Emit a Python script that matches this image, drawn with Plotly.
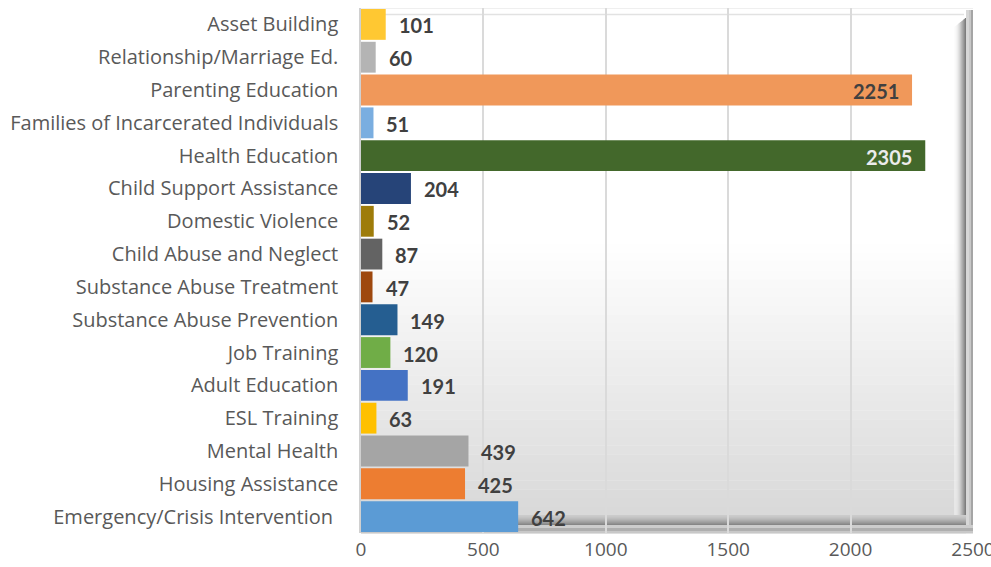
import plotly.graph_objects as go

# Data (bottom to top)
categories = [
    "Emergency/Crisis Intervention ", "Housing Assistance", "Mental Health", "ESL Training",
    "Adult Education", "Job Training", "Substance Abuse Prevention", "Substance Abuse Treatment",
    "Child Abuse and Neglect", "Domestic Violence", "Child Support Assistance", "Health Education",
    "Families of Incarcerated Individuals", "Parenting Education", "Relationship/Marriage Ed.",
    "Asset Building",
]
values = [642, 425, 439, 63, 191, 120, 149, 47, 87, 52, 204, 2305, 51, 2251, 60, 101]
colors = [
    "#5B9BD5", "#ED7D31", "#A5A5A5", "#FFC000", "#4472C4", "#70AD47", "#255E91", "#9E480E",
    "#636363", "#9E7C0A", "#264478", "#43682B", "#7AAEE0", "#F0985A", "#B4B4B4", "#FFC832",
]
x_ticks = [0, 500, 1000, 1500, 2000, 2500]

W, H = 991, 567
L, R, T, B = 361, 973, 8, 533

def fx(px):
    return (px - L) / (R - L)

def fy(py):
    return (B - py) / (B - T)

fig = go.Figure(go.Bar(
    y=categories, x=values, orientation="h",
    marker=dict(color=colors, line=dict(width=0)),
    hoverinfo="x+y", cliponaxis=False,
))

shapes = []
# background wall gradient (white top -> grey bottom)
N = 60
for i in range(N):
    t0 = i / N
    t1 = (i + 1) / N
    tm = (t0 + t1) / 2
    v = 255 if tm < 0.45 else 255 - 75 * (tm - 0.45)
    v = int(round(v))
    shapes.append(dict(type="rect", xref="x domain", yref="y domain",
                       x0=0, x1=fx(966), y0=1 - t1 - 0.0005, y1=1 - t0,
                       fillcolor=f"rgb({v},{v},{v})", line=dict(width=0), layer="below"))
# right bevel: soft shade getting darker toward the edge
for k in range(12):
    a = 954 + k
    t = (k + 1) / 12
    v = int(round(250 - 125 * t ** 1.6))
    shapes.append(dict(type="rect", xref="x domain", yref="y domain",
                       x0=fx(a), x1=fx(a + 1.05), y0=fy(521), y1=fy(T + 10 + (11 - k) * 0.8),
                       fillcolor=f"rgb({v},{v},{v})", line=dict(width=0), layer="below",
                       opacity=min(1, 0.35 + t)))
for a, b, v in [(966, 969, 215), (969, 971, 200), (971, 973, 165)]:
    shapes.append(dict(type="rect", xref="x domain", yref="y domain",
                       x0=fx(a), x1=fx(b), y0=0, y1=fy(T + 2),
                       fillcolor=f"rgb({v},{v},{v})", line=dict(width=0), layer="below"))
# bottom bevel
for k in range(10):
    a = 515 + k
    t = (k + 1) / 10
    v = int(round(205 - 70 * t ** 1.6))
    shapes.append(dict(type="rect", xref="x domain", yref="y domain",
                       x0=0, x1=fx(966), y0=fy(a + 1.05), y1=fy(a),
                       fillcolor=f"rgb({v},{v},{v})", line=dict(width=0), layer="below"))
for a, b, v in [(525, 528, 205), (528, 531, 175), (531, 533.5, 200)]:
    shapes.append(dict(type="rect", xref="x domain", yref="y domain",
                       x0=0, x1=fx(973), y0=fy(b), y1=fy(a),
                       fillcolor=f"rgb({v},{v},{v})", line=dict(width=0), layer="below"))
# top edges
shapes.append(dict(type="line", xref="x domain", yref="y domain", x0=0, x1=fx(964),
                   y0=fy(14.5), y1=fy(14.5), line=dict(color="#e2e2e2", width=1.5), layer="below"))
shapes.append(dict(type="line", xref="x domain", yref="y domain", x0=0, x1=fx(973),
                   y0=fy(8.5), y1=fy(8.5), line=dict(color="#efefef", width=1), layer="below"))

annotations = []
for c, v in zip(categories, values):
    if v > 2000:
        color = "#404040" if v < 2300 else "#ececec"
        annotations.append(dict(x=v, y=c, xref="x", yref="y", text=f"<b>{v}</b>",
                                showarrow=False, xanchor="right", xshift=-11, yshift=-1,
                                font=dict(family="Lato", size=20, color=color)))
    else:
        annotations.append(dict(x=v, y=c, xref="x", yref="y", text=f"<b>{v}</b>",
                                showarrow=False, xanchor="left", xshift=11, yshift=-1,
                                font=dict(family="Lato", size=20, color="#404040")))

fig.update_layout(
    width=W, height=H,
    margin=dict(l=L, r=W - R, t=T, b=H - B, pad=0, autoexpand=False),
    paper_bgcolor="white", plot_bgcolor="white",
    bargap=0.06,
    showlegend=False,
    shapes=shapes,
    annotations=annotations,
    xaxis=dict(range=[0, 2500], tickvals=x_ticks, showgrid=True, gridcolor="#dadada",
               gridwidth=1.5, zeroline=False, showline=False, automargin=False,
               tickfont=dict(family="Open Sans", size=19, color="#595959"), ticks="",
               ticklabelstandoff=3, ticklabeloverflow="allow", fixedrange=True),
    yaxis=dict(showgrid=False, zeroline=False, showline=True, linecolor="#d0d0d0", linewidth=1.5,
               automargin=False,
               tickfont=dict(family="Open Sans", size=20, color="#595959"), ticks="",
               ticklabelstandoff=17, fixedrange=True),
)

fig.write_html("out.html", config={"displayModeBar": False},
               post_script="document.body.style.margin='0';")
